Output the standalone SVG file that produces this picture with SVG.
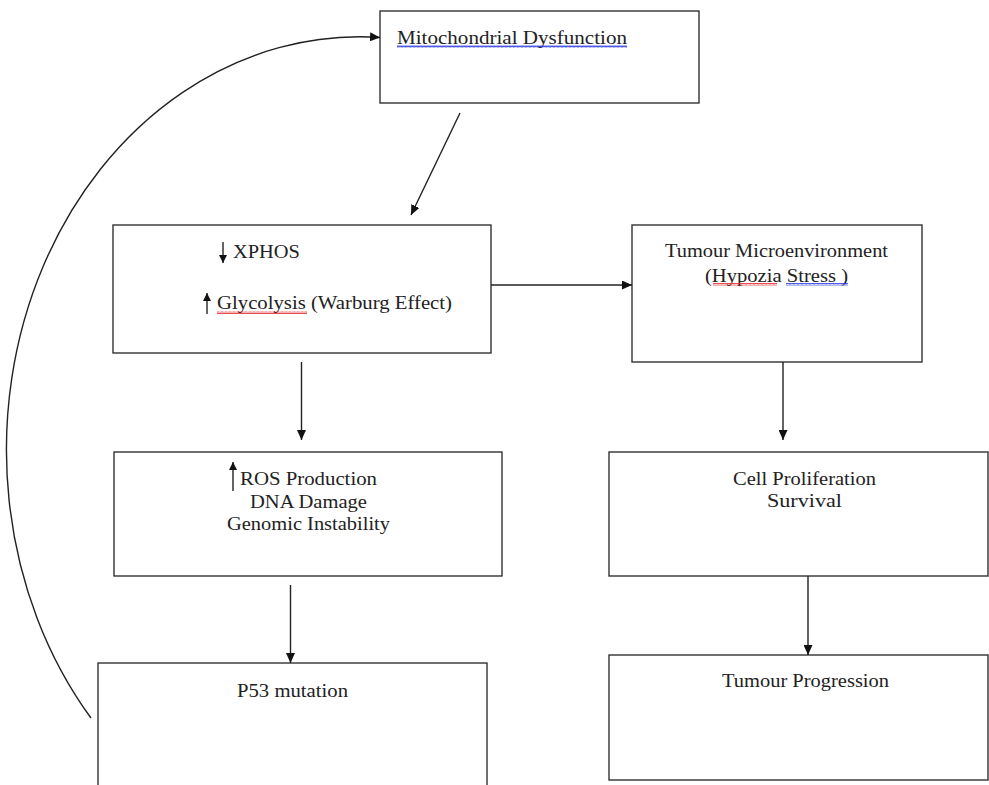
<svg xmlns="http://www.w3.org/2000/svg" width="989" height="785" viewBox="0 0 989 785">
<defs>
<marker id="ah" markerWidth="10" markerHeight="9" refX="10" refY="4.5" orient="auto" markerUnits="userSpaceOnUse">
<path d="M0,0 L10,4.5 L0,9 Z" fill="#111"/>
</marker>
<marker id="sh" markerWidth="8" markerHeight="8" refX="8" refY="4" orient="auto" markerUnits="userSpaceOnUse">
<path d="M0,0 L8,4 L0,8 Z" fill="#111"/>
</marker>
<pattern id="redw" width="4" height="3" patternUnits="userSpaceOnUse">
<polyline points="0,2.5 1,0.5 2,2.5 3,0.5 4,2.5" fill="none" stroke="#e02020" stroke-width="0.8"/>
</pattern>
<pattern id="bluew" width="4" height="3" patternUnits="userSpaceOnUse">
<polyline points="0,2.5 1,0.5 2,2.5 3,0.5 4,2.5" fill="none" stroke="#2030e0" stroke-width="0.8"/>
</pattern>
</defs>
<style>
.box{fill:#fff;stroke:#333;stroke-width:1.4}
.t{font-family:"Liberation Serif","Times New Roman",serif;font-size:18.5px;fill:#222}
.c{text-anchor:middle}
.con{fill:none;stroke:#222;stroke-width:1.4}
.sm{fill:none;stroke:#111;stroke-width:1.3}
</style>
<rect width="989" height="785" fill="#fff"/>

<g id="node-mito">
<rect class="box" x="380" y="11" width="319" height="92"/>
<text class="t" x="397" y="44" textLength="230" lengthAdjust="spacingAndGlyphs">Mitochondrial  Dysfunction</text>
<rect x="397" y="45" width="230" height="3" fill="url(#bluew)"/>
</g>

<g id="node-metab">
<rect class="box" x="113" y="225" width="378" height="128"/>
<line class="sm" x1="223" y1="242" x2="223" y2="263" marker-end="url(#sh)"/>
<text class="t" x="233" y="258" textLength="67" lengthAdjust="spacingAndGlyphs">XPHOS</text>
<line class="sm" x1="207" y1="314" x2="207" y2="293" marker-end="url(#sh)"/>
<text class="t" x="217" y="309" textLength="235" lengthAdjust="spacingAndGlyphs">Glycolysis (Warburg Effect)</text>
<rect x="217" y="311" width="90" height="3" fill="url(#redw)"/>
</g>

<g id="node-tme">
<rect class="box" x="632" y="225" width="290" height="137"/>
<text class="t c" x="776.5" y="257" textLength="223" lengthAdjust="spacingAndGlyphs">Tumour Microenvironment</text>
<text class="t c" x="776.5" y="282" textLength="143" lengthAdjust="spacingAndGlyphs">(Hypozia Stress )</text>
<rect x="713" y="283" width="64" height="3" fill="url(#redw)"/>
<rect x="786" y="283" width="62" height="3" fill="url(#bluew)"/>
</g>

<g id="node-ros">
<rect class="box" x="114" y="452" width="388" height="124"/>
<line class="sm" x1="233" y1="491" x2="233" y2="462" marker-end="url(#sh)"/>
<text class="t c" x="308.5" y="485" textLength="137" lengthAdjust="spacingAndGlyphs">ROS Production</text>
<text class="t c" x="308.5" y="508" textLength="117" lengthAdjust="spacingAndGlyphs">DNA Damage</text>
<text class="t c" x="308.5" y="530" textLength="163" lengthAdjust="spacingAndGlyphs">Genomic Instability</text>
</g>

<g id="node-cell">
<rect class="box" x="609" y="452" width="379" height="124"/>
<text class="t c" x="804.5" y="485" textLength="143" lengthAdjust="spacingAndGlyphs">Cell Proliferation</text>
<text class="t c" x="804.5" y="507" textLength="75" lengthAdjust="spacingAndGlyphs">Survival</text>
</g>

<g id="node-p53">
<rect class="box" x="98" y="663" width="389" height="140"/>
<text class="t c" x="292.5" y="697" textLength="111" lengthAdjust="spacingAndGlyphs">P53 mutation</text>
</g>

<g id="node-prog">
<rect class="box" x="609" y="655" width="379" height="125"/>
<text class="t c" x="805.5" y="687" textLength="167" lengthAdjust="spacingAndGlyphs">Tumour Progression</text>
</g>

<g id="connectors">
<line class="con" x1="460" y1="113" x2="411" y2="215" marker-end="url(#ah)"/>
<line class="con" x1="491" y1="285" x2="632" y2="285" marker-end="url(#ah)"/>
<line class="con" x1="301.5" y1="362" x2="301.5" y2="440" marker-end="url(#ah)"/>
<line class="con" x1="783" y1="362" x2="783" y2="440" marker-end="url(#ah)"/>
<line class="con" x1="290.5" y1="585" x2="290.5" y2="663" marker-end="url(#ah)"/>
<line class="con" x1="808" y1="576" x2="808" y2="655" marker-end="url(#ah)"/>
<path class="con" d="M91,718 A353,413 0 0 1 380,37.5" marker-end="url(#ah)"/>
</g>
</svg>
